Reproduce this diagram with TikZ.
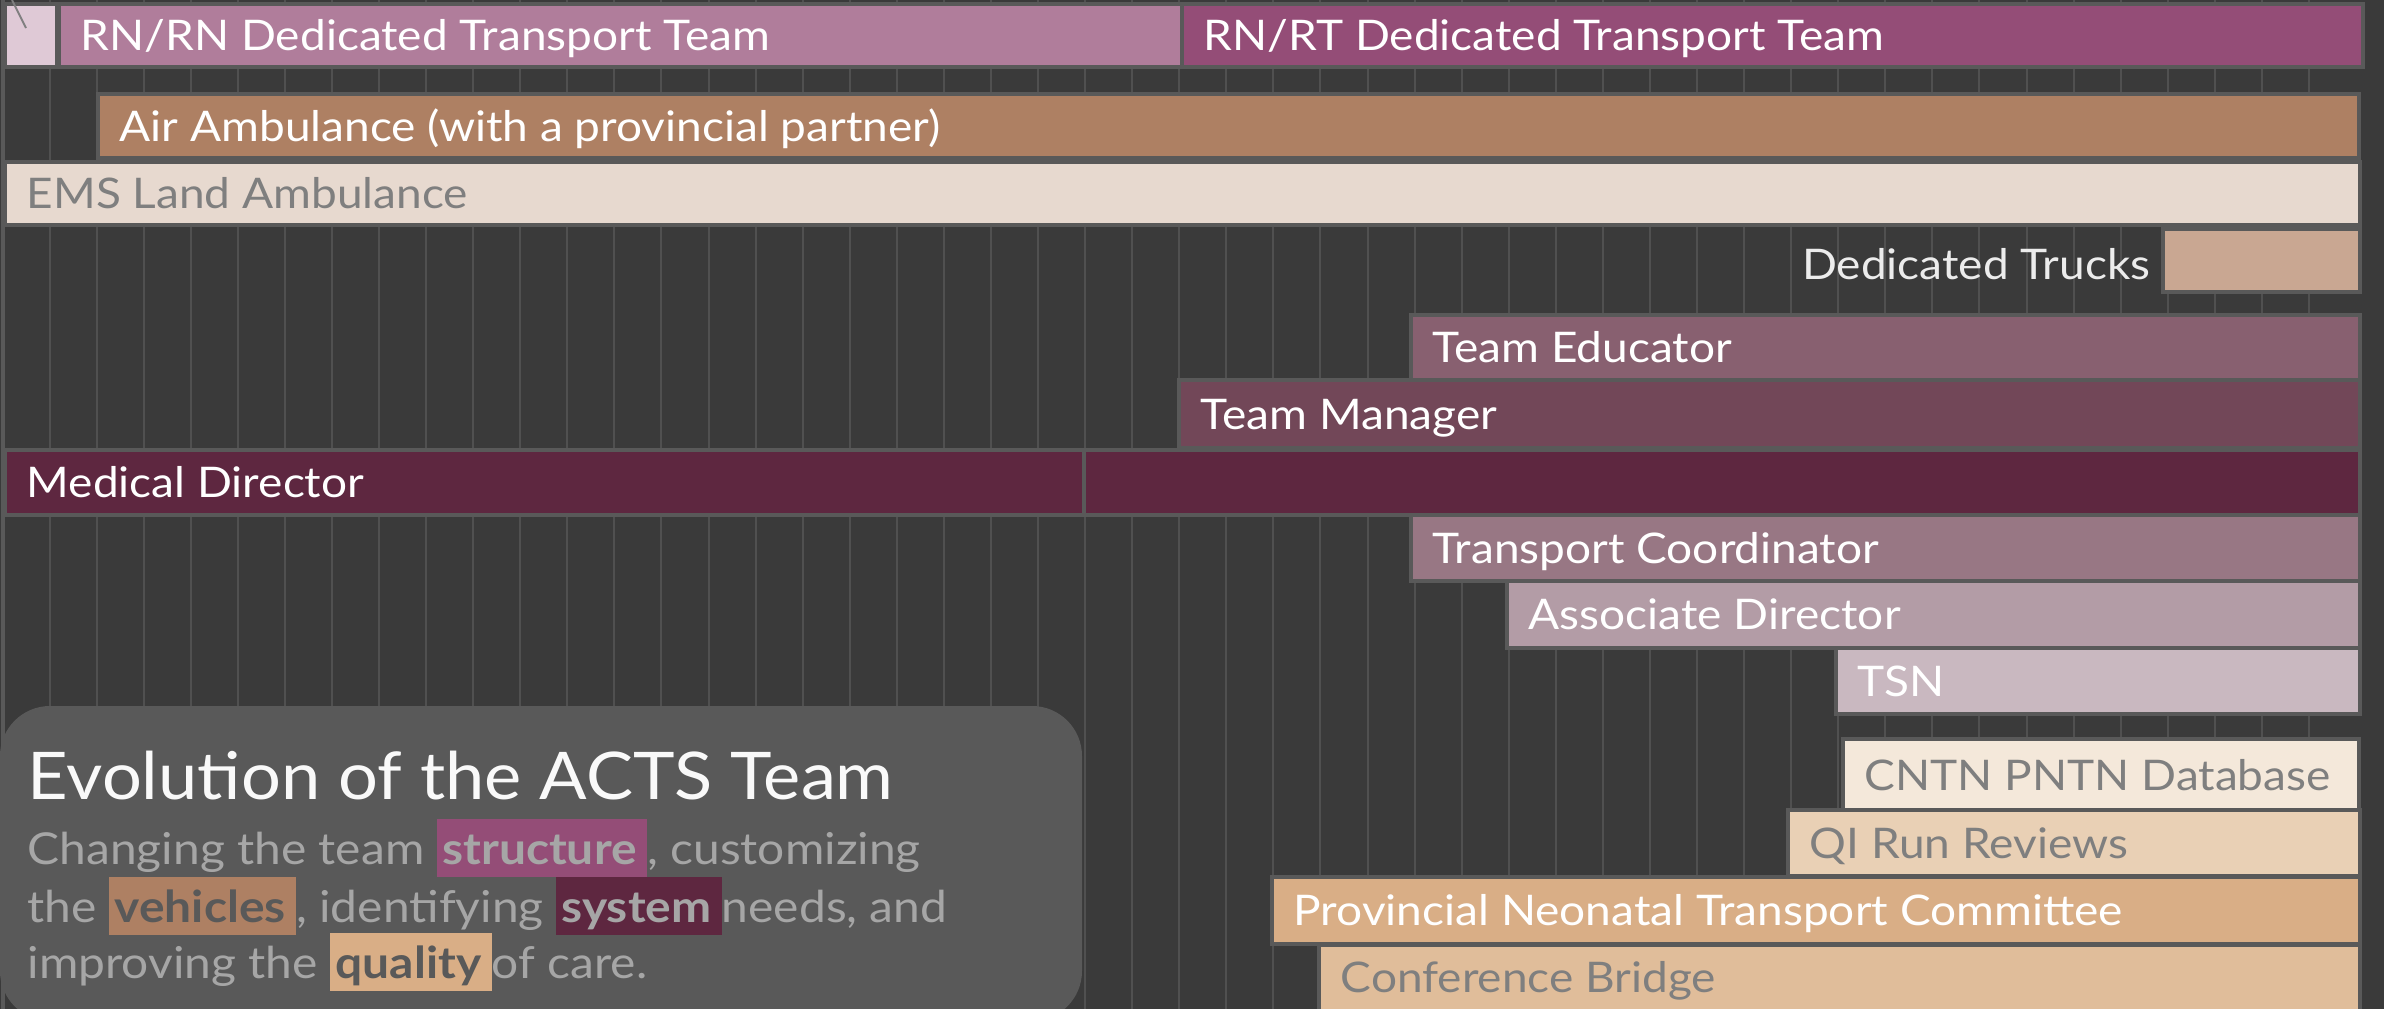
\documentclass[tikz,border=0pt]{standalone}
\usepackage{fontspec}
\setmainfont{Lato}[FakeStretch=1.09]
\newfontfamily\titlefont{Lato}[FakeStretch=1.07]
\usepackage{xcolor}
\definecolor{canvas}{HTML}{3A3A3A}
\definecolor{gridgray}{HTML}{505050}
\definecolor{rowedge}{HTML}{595959}
\definecolor{labelgray}{HTML}{7F7F7F}
\definecolor{bodygray}{HTML}{A6A6A6}
\definecolor{pinkpale}{HTML}{DFC9D6}
\definecolor{pinkmid}{HTML}{B07D9B}
\definecolor{pinkdeep}{HTML}{944D77}
\definecolor{airbrown}{HTML}{AE8063}
\definecolor{landcream}{HTML}{E7D9CF}
\definecolor{truckbeige}{HTML}{C9A792}
\definecolor{plumlight}{HTML}{886070}
\definecolor{plummid}{HTML}{724758}
\definecolor{plumdark}{HTML}{5E2740}
\definecolor{mauve}{HTML}{987784}
\definecolor{mauvepale}{HTML}{B39CA6}
\definecolor{mauvemist}{HTML}{C9B8C0}
\definecolor{sandpale}{HTML}{F4E8DA}
\definecolor{sandlight}{HTML}{E9D0B5}
\definecolor{sanddeep}{HTML}{D9AE86}
\definecolor{sandmid}{HTML}{E0BD9A}
\newcommand{\hlword}[3]{{\setlength{\fboxsep}{0pt}\colorbox{#1}{\rule[-3.7pt]{0pt}{16.5pt}\hspace{1.6pt}\textcolor{#2}{\textbf{#3}}\hspace{3pt}}}}

\begin{document}
\begin{tikzpicture}[x=0.01cm,y=-0.01cm,line join=miter,
  bar/.style={draw=rowedge,line width=0.04cm},
  lbl/.style={anchor=base west,inner sep=0pt,font=\fontsize{12}{14}\selectfont,text=white},
  lbldim/.style={lbl,text=labelgray},
  desc/.style={anchor=base west,inner sep=0pt,font=\fontsize{12.5}{14}\selectfont,text=bodygray}]
\useasboundingbox (0,0) rectangle (2384,1009);
\clip (0,0) rectangle (2384,1009);
\fill[canvas] (0,0) rectangle (2384,1009);
\foreach \k in {1,...,49}
  \draw[gridgray,line width=0.02cm] ({2.5+47.07*\k},0) -- ({2.5+47.07*\k},1009);
\draw[rowedge,line width=0.04cm] (3,0) -- (3,1009);

% team rows
\draw[bar,fill=pinkpale] (5,4) rectangle (57,67);
\draw[labelgray,line width=0.02cm] (12,0) -- (26,28);
\draw[bar,fill=pinkmid] (59,4) rectangle (1182,67);
\node[lbl] (rnrn) at (80,50.5) {RN/RN Dedicated Transport Team};
\draw[bar,fill=pinkdeep] (1182,4) rectangle (2363,67);
\node[lbl] (rnrt) at (1203,50.5) {RN/RT Dedicated Transport Team};

% vehicles
\draw[bar,fill=airbrown] (98,94) rectangle (2359,158);
\node[lbl] (air) at (119,141) {Air Ambulance (with a provincial partner)};
\draw[bar,fill=landcream] (5,162) rectangle (2360,225);
\node[lbldim] (land) at (26,208.5) {EMS Land Ambulance};
\draw[bar,fill=truckbeige] (2163,229) rectangle (2360,292);
\node[lbl,anchor=base east,text=white!85!gray] (trucks) at (2151,279) {Dedicated Trucks};

% staff
\draw[bar,fill=plumlight] (1411,315) rectangle (2360,380);
\node[lbl] (educator) at (1432,362.5) {Team Educator};
\draw[bar,fill=plummid] (1179,380) rectangle (2360,448);
\node[lbl] (manager) at (1200,429) {Team Manager};
\draw[bar,fill=plumdark] (5,450) rectangle (2360,515);
\draw[rowedge,line width=0.04cm] (1084,450) -- (1084,515);
\node[lbl] (meddir) at (26,497.5) {Medical Director};
\draw[bar,fill=mauve] (1411,515) rectangle (2360,581);
\node[lbl] (coord) at (1432,563) {Transport Coordinator};
\draw[bar,fill=mauvepale] (1507,581) rectangle (2360,648);
\node[lbl] (assoc) at (1528,629.5) {Associate Director};
\draw[bar,fill=mauvemist] (1836,648) rectangle (2360,714);
\node[lbl] (tsn) at (1857,696) {TSN};

% system and quality
\draw[bar,fill=sandpale] (1843,739) rectangle (2359,811);
\node[lbldim] (database) at (1864,790) {CNTN PNTN Database};
\draw[bar,fill=sandlight] (1788,810) rectangle (2360,876);
\node[lbldim] (qirun) at (1809,858) {QI Run Reviews};
\draw[bar,fill=sanddeep] (1272,877) rectangle (2360,944);
\node[lbl] (pntc) at (1293,925.5) {Provincial Neonatal Transport Committee};
\draw[bar,fill=sandmid] (1319,945) rectangle (2360,1040);
\node[lbldim] (bridge) at (1340,992) {Conference Bridge};

% caption panel
\fill[rowedge,rounded corners=0.5cm] (0,706) rectangle (1082,1021);
\node[anchor=base west,inner sep=0pt,font=\titlefont\fontsize{18.7}{22}\selectfont,text=white!95!gray] (title) at (27,799) {Evolution of the ACTS Team};
\node[desc] (desc1) at (27,864) {Changing the team \hlword{pinkdeep}{bodygray}{structure}, customizing};
\node[desc] (desc2) at (27,922) {the \hlword{airbrown}{rowedge}{vehicles}, identifying \hlword{plumdark}{bodygray}{system}needs, and};
\node[desc] (desc3) at (27,978) {improving the \hlword{sanddeep}{rowedge}{quality}of care.};
\end{tikzpicture}
\end{document}
